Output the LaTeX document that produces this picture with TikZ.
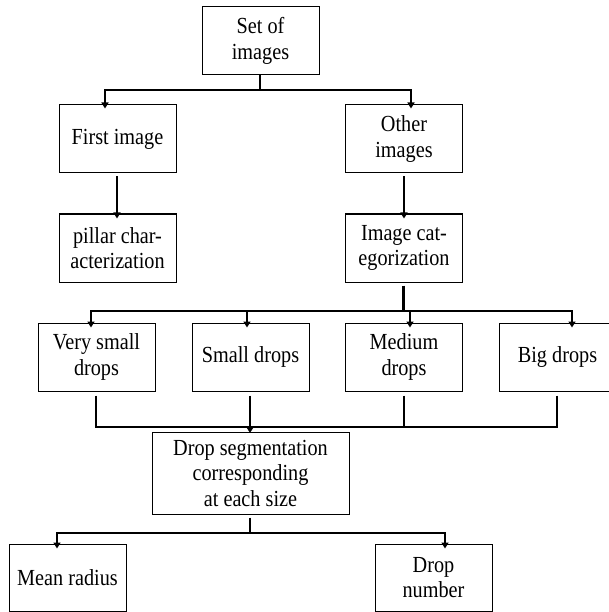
\documentclass[tikz,border=0pt]{standalone}
\usepackage{fontspec}
\setmainfont[FakeStretch=0.88]{Liberation Serif}
\usetikzlibrary{arrows.meta}
\begin{document}
\begin{tikzpicture}[x=1pt,y=-1pt,
  box/.style={draw,line width=1pt,minimum width=117pt,minimum height=68pt,align=center,inner sep=0pt,
    font=\fontsize{23}{25.5}\selectfont},
  conn/.style={line width=2pt},
  arr/.style={line width=2pt,-{Triangle[length=6pt,width=7pt]}},
  ]
\useasboundingbox (0,0) rectangle (609,612);
\begin{scope}
\clip (0,0) rectangle (609,612);
\node[box] (set) at (260.5,41) {Set of\\images};
\node[box] (first) at (117.5,139) {First image};
\node[box] (other) at (404,139) {Other\\images};
\node[box] (pillar) at (117.5,248) {pillar char-\\acterization};
\node[box] (imgcat) at (404,248) {Image cat-\\egorization};
\node[box] (vsmall) at (96.5,357) {Very small\\drops};
\node[box] (small) at (250.5,357) {Small drops};
\node[box] (medium) at (404,357) {Medium\\drops};
\node[box] (big) at (557.5,357) {Big drops};
\node[box,minimum width=197pt,minimum height=82pt] (seg) at (250.5,473) {Drop segmentation\\corresponding\\at each size};
\node[box,minimum height=67pt] (mean) at (67.5,577.5) {Mean radius};
\node[box,minimum height=67pt] (num) at (433.5,577.5) {Drop\\number};
\end{scope}
% level 1
\coordinate (h1l) at (105,90);
\coordinate (h1r) at (411,90);
\draw[conn] ([xshift=-0.5pt]set.south) -- ([xshift=-0.5pt]set.south |- h1l);
\draw[conn] ([xshift=-1pt]h1l) -- ([xshift=1pt]h1r);
\draw[arr] (h1l) -- ([yshift=-4pt]h1l |- first.north);
\draw[arr] (h1r) -- ([yshift=-4pt]h1r |- other.north);
% level 2
\draw[arr] ([xshift=-0.5pt,yshift=-3pt]first.south) -- ([xshift=-0.5pt,yshift=-5pt]first.south |- pillar.north);
\draw[arr] ([yshift=-3pt]other.south) -- ([yshift=-5pt]other.south |- imgcat.north);
% level 3
\coordinate (h2l) at (91,311);
\coordinate (h2r) at (572,311);
\coordinate (a2) at (247,311);
\coordinate (a3) at (410,311);
\draw[line width=3pt] ([xshift=-0.5pt,yshift=-3pt]imgcat.south) -- ([xshift=-0.5pt]imgcat.south |- h2l);
\draw[conn] ([xshift=-1pt]h2l) -- ([xshift=1pt]h2r);
\draw[arr] (h2l) -- ([yshift=-5pt]h2l |- vsmall.north);
\draw[arr] (a2) -- ([yshift=-5pt]a2 |- small.north);
\draw[arr] (a3) -- ([yshift=-5pt]a3 |- medium.north);
\draw[arr] (h2r) -- ([yshift=-5pt]h2r |- big.north);
% merge
\coordinate (m) at (0,427);
\draw[conn] ([xshift=-0.5pt,yshift=-4pt]vsmall.south) -- ([xshift=-0.5pt]vsmall.south |- m);
\draw[conn] ([yshift=-4pt]medium.south) -- (medium.south |- m);
\draw[conn] ([xshift=-0.5pt,yshift=-4pt]big.south) -- ([xshift=-0.5pt]big.south |- m);
\draw[conn] ([xshift=-1.5pt]vsmall.south |- m) -- ([xshift=0.5pt]big.south |- m);
\draw[arr] ([xshift=-0.5pt,yshift=-4pt]small.south) -- ([xshift=-0.5pt,yshift=-1.5pt]seg.north);
% level 4
\coordinate (h4l) at (57,533);
\coordinate (h4r) at (445,533);
\draw[conn] ([xshift=-0.5pt,yshift=-3pt]seg.south) -- ([xshift=-0.5pt]seg.south |- h4l);
\draw[conn] ([xshift=-1pt]h4l) -- ([xshift=1pt]h4r);
\draw[arr] (h4l) -- ([yshift=-5pt]h4l |- mean.north);
\draw[arr] (h4r) -- ([yshift=-5pt]h4r |- num.north);
\end{tikzpicture}
\end{document}
